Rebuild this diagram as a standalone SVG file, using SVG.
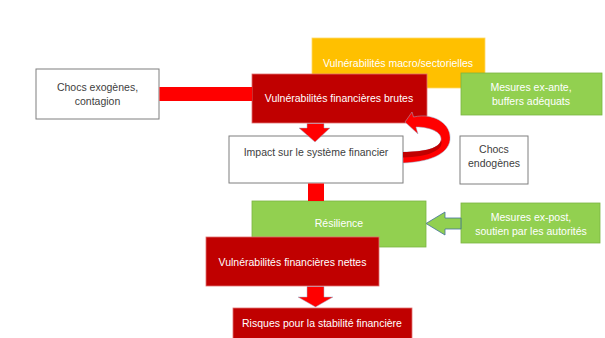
<svg xmlns="http://www.w3.org/2000/svg" width="605" height="338" viewBox="0 0 605 338">
<style>
text{font-family:"Liberation Sans",Arial,sans-serif;font-size:10.5px;text-anchor:middle}
.w{fill:#ffffff}
.d{fill:#404040}
.red{fill:#C00000;stroke:#e07070;stroke-width:0.8}
.yel{fill:#FFC000;stroke:#ffd966;stroke-width:0.8}
.grn{fill:#92D050;stroke:#7cb342;stroke-width:0.8}
.wht{fill:#ffffff;stroke:#7f7f7f;stroke-width:1}
.arr{fill:#FF0000;stroke:#9fb4d0;stroke-width:0.5}
</style>
<rect width="605" height="338" fill="#ffffff"/>
<g id="macro"><rect class="yel" x="312" y="38" width="173" height="50"/><text class="w" x="398" y="67">Vulnérabilités macro/sectorielles</text></g>
<g id="exogenes"><rect class="wht" x="36" y="69" width="123" height="50"/><text class="d" x="97.5" y="91">Chocs exogènes,</text><text class="d" x="97.5" y="105">contagion</text></g>
<g id="brutes"><rect class="red" x="252" y="74" width="175" height="49"/><text class="w" x="339" y="102">Vulnérabilités financières brutes</text></g>
<g id="exante"><rect class="grn" x="461" y="73" width="141" height="42"/><text class="w" x="531" y="91">Mesures ex-ante,</text><text class="w" x="531" y="105">buffers adéquats</text></g>
<g id="impact"><rect class="wht" x="229" y="136" width="174" height="47"/><text class="d" x="316" y="156">Impact sur le système financier</text></g>
<g id="endogenes"><rect class="wht" x="460" y="136" width="68" height="48"/><text class="d" x="494" y="153">Chocs</text><text class="d" x="494" y="167">endogènes</text></g>
<g id="resilience"><rect class="grn" x="252" y="201" width="174" height="46"/><text class="w" x="339" y="227">Résilience</text></g>
<g id="expost"><rect class="grn" x="461" y="203" width="139" height="40"/><text class="w" x="531" y="221">Mesures ex-post,</text><text class="w" x="531" y="235">soutien par les autorités</text></g>
<g id="nettes"><rect class="red" x="206" y="237" width="173" height="49"/><text class="w" x="292.5" y="266">Vulnérabilités financières nettes</text></g>
<g id="risques"><rect class="red" x="233" y="308" width="179" height="36"/><text class="w" x="322" y="327">Risques pour la stabilité financière</text></g>
<g id="connectors">
<rect x="159.5" y="87" width="92.5" height="14" fill="#FF0000"/>
<path class="arr" d="M307,123.5 H324 V128 H330 L315,142 L299,128 H307 Z"/>
<path class="arr" d="M405,122 L412,112 L413.5,117 C435,112 452,125 450,140 C448,155 428,162 403,163 L403,152 C425,152 440,148 441,140 C442,132 430,127 416,127 L418,134 Z"/>
<path d="M441,140 C440,148 425,152 403,152 L403,157.5 C428,157 445,150 441,140 Z" fill="#C00000"/>
<rect x="308" y="183.5" width="16" height="17.5" fill="#FF0000"/>
<path d="M461,218 H445 V212 L426,223.5 L445,235 V229 H461 Z" fill="#92D050" stroke="#41719C" stroke-width="0.8"/>
<path class="arr" d="M307,286.5 H324 V297 H333 L315.5,307 L298,297 H307 Z"/>
</g>
</svg>
